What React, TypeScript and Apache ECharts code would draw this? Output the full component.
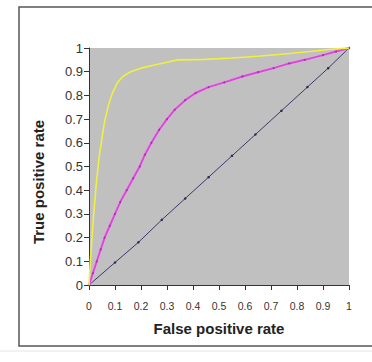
import React, { useEffect, useRef } from "react";
import * as echarts from "echarts";

const yTicks = ["0", "0.1", "0.2", "0.3", "0.4", "0.5", "0.6", "0.7", "0.8", "0.9", "1"];
const xTicks = ["0", "0.1", "0.2", "0.3", "0.4", "0.5", "0.6", "0.7", "0.8", "0.9", "1"];

const yellowCurve: [number, number][] = [
  [0, 0], [0.005, 0.1], [0.018, 0.3], [0.03, 0.45], [0.04, 0.55], [0.05, 0.62],
  [0.06, 0.69], [0.075, 0.76], [0.09, 0.81], [0.11, 0.855], [0.13, 0.88],
  [0.16, 0.9], [0.2, 0.915], [0.26, 0.93], [0.3, 0.94], [0.34, 0.95],
  [0.45, 0.952], [0.55, 0.958], [0.65, 0.965], [0.75, 0.975], [0.85, 0.985],
  [0.93, 0.995], [1, 1],
];

const magentaCurve: [number, number][] = [
  [0, 0], [0.015, 0.05], [0.03, 0.1], [0.045, 0.15], [0.06, 0.2], [0.08, 0.25],
  [0.1, 0.3], [0.12, 0.35], [0.145, 0.4], [0.17, 0.45], [0.195, 0.5],
  [0.215, 0.55], [0.24, 0.6], [0.27, 0.655], [0.3, 0.7], [0.33, 0.74],
  [0.37, 0.78], [0.41, 0.81], [0.46, 0.835], [0.52, 0.855], [0.59, 0.88],
  [0.65, 0.898], [0.71, 0.915], [0.77, 0.935], [0.83, 0.95], [0.9, 0.97],
  [0.95, 0.985], [1, 1],
];

const diagonal: [number, number][] = [
  [0, 0], [0.1, 0.095], [0.19, 0.18], [0.28, 0.275], [0.37, 0.365], [0.46, 0.455],
  [0.55, 0.545], [0.64, 0.635], [0.74, 0.735], [0.84, 0.835], [0.92, 0.915], [1, 1],
];

export default function App() {
  const ref = useRef<HTMLDivElement>(null);
  useEffect(() => {
    if (!ref.current) return;
    const chart = echarts.init(ref.current, null, { renderer: "svg" });
    const font = "'Liberation Sans', Arial, sans-serif";
    chart.setOption({
      animation: false,
      backgroundColor: "#ffffff",
      grid: { left: 89, top: 48, width: 260, height: 237, show: true, backgroundColor: "#c0c0c0", borderWidth: 0 },
      xAxis: {
        type: "value",
        min: 0,
        max: 1,
        interval: 0.1,
        name: "False positive rate",
        nameLocation: "middle",
        nameGap: 36,
        nameTextStyle: { fontFamily: font, fontWeight: "bold", fontSize: 15, color: "#222" },
        axisLine: { show: true, lineStyle: { color: "#333", width: 1 } },
        axisTick: { show: true, length: 5, lineStyle: { color: "#333" } },
        splitLine: { show: false },
        axisLabel: {
          margin: 15,
          fontFamily: font,
          fontSize: 10.5,
          color: "#333",
          formatter: (v: number) => xTicks[Math.round(v * 10)] ?? "",
        },
      },
      yAxis: {
        type: "value",
        min: 0,
        max: 1,
        interval: 0.1,
        axisLine: { show: true, lineStyle: { color: "#333", width: 1 } },
        axisTick: { show: true, length: 5, lineStyle: { color: "#333" } },
        splitLine: { show: false },
        axisLabel: {
          margin: 6,
          fontFamily: font,
          fontSize: 13,
          color: "#333",
          formatter: (v: number) => yTicks[Math.round(v * 10)] ?? "",
        },
      },
      graphic: [
        {
          type: "rect",
          shape: { x: 19, y: 7, width: 400, height: 339 },
          style: { fill: "none", stroke: "#555", lineWidth: 1.5 },
          z: 10,
        },
        {
          type: "line",
          shape: { x1: 0, y1: 351, x2: 372, y2: 351 },
          style: { stroke: "#e4e4e4", lineWidth: 1 },
        },
        {
          type: "text",
          x: 38,
          y: 182,
          rotation: Math.PI / 2,
          style: {
            text: "True positive rate",
            fontFamily: font,
            fontWeight: "bold",
            fontSize: 15,
            fill: "#222",
            align: "center",
            verticalAlign: "middle",
          },
        },
      ],
      series: [
        {
          type: "line",
          data: diagonal,
          showSymbol: true,
          symbol: "circle",
          symbolSize: 2.5,
          itemStyle: { color: "#2a2a55" },
          lineStyle: { color: "#3a3a6a", width: 1 },
          z: 2,
        },
        {
          type: "line",
          data: magentaCurve,
          showSymbol: true,
          symbol: "circle",
          symbolSize: 2,
          itemStyle: { color: "#a036a0" },
          lineStyle: { color: "#d84ad8", width: 2, shadowColor: "rgba(255,150,255,0.7)", shadowBlur: 2 },
          z: 3,
        },
        {
          type: "line",
          data: yellowCurve,
          showSymbol: false,
          lineStyle: { color: "#f0f040", width: 1.6 },
          z: 4,
        },
      ],
    });
    return () => chart.dispose();
  }, []);
  return (
    <div
      ref={ref}
      style={{ position: "fixed", left: 0, top: 0, width: 372, height: 362 }}
    />
  );
}
